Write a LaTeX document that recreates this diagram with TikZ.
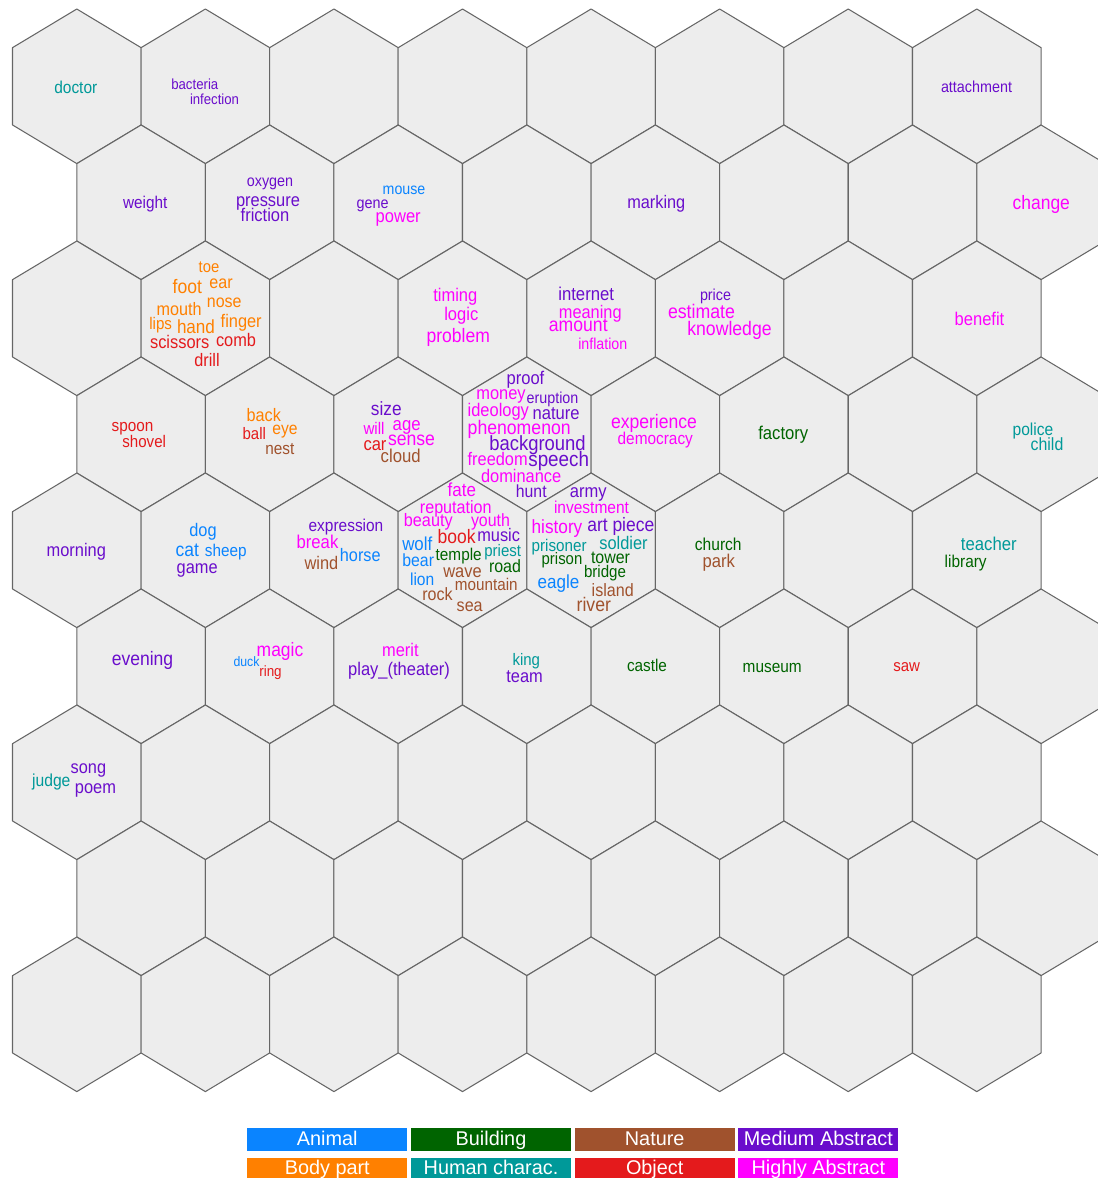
\documentclass[tikz,border=0pt]{standalone}
\usepackage{fontspec}
\setmainfont{Liberation Sans}
\newfontfamily\wordfont{Liberation Sans}[FakeStretch=0.9]
\usepackage{graphicx}
\definecolor{hexfill}{HTML}{EDEDED}
\definecolor{hexline}{HTML}{666666}
\definecolor{animal}{HTML}{0A84FF}
\definecolor{building}{HTML}{006400}
\definecolor{nature}{HTML}{A0522D}
\definecolor{medabs}{HTML}{6A0DCC}
\definecolor{bodypart}{HTML}{FF8000}
\definecolor{human}{HTML}{009999}
\definecolor{object}{HTML}{E41A1C}
\definecolor{highabs}{HTML}{FF00FF}
\newlength{\pxu}\setlength{\pxu}{0.02cm}
\begin{document}
\begin{tikzpicture}[x=0.02cm,y=-0.02cm,
	hexcell/.style={fill=hexfill,draw=hexline,line width=0.6pt,line join=round},
	word/.style={anchor=base,inner sep=0pt,outer sep=0pt,font=\wordfont},
	keybox/.style={fill=#1,text=white,minimum width=3.2cm,minimum height=0.448cm,inner sep=0pt,
		text height=8.1pt,text depth=1.5pt,font=\fontsize{11.3}{12}\selectfont}]
	\useasboundingbox (0,0) rectangle (1098,1178);
	\clip (0,0) rectangle (1098,1178);
	% Lưới lục giác 9 x 8
	\foreach \r in {0,...,8}
	\foreach \k in {0,...,7}{
		\pgfmathsetmacro{\hx}{76.8+128.57*\k+64.29*mod(\r,2)}
		\pgfmathsetmacro{\hy}{86.3+116*\r}
		\draw[hexcell] (\hx,\hy) +(0,-77.3) -- +(64.29,-38.65) -- +(64.29,38.65) -- +(0,77.3) -- +(-64.29,38.65) -- +(-64.29,-38.65) -- cycle;
	}
	% Các từ trong từng ô: x/y (đường chân chữ)/bề rộng/màu/từ
	\foreach \x/\y/\w/\c/\t [count=\n] in {
		75.8/93.3/43/human/doctor, 194.8/89.3/47/medabs/bacteria, 214.5/104.3/49/medabs/infection,
		976.5/92.7/71/medabs/attachment,
		145.2/208/44.3/medabs/weight, 270/186.7/46.3/medabs/oxygen, 268/206/64/medabs/pressure,
		265/221.7/48.6/medabs/friction, 404/194.3/42.6/animal/mouse, 372.7/208.3/32/medabs/gene,
		398.2/222.3/45/highabs/power, 656.3/208.3/58/medabs/marking, 1041.3/209/57.3/highabs/change,
		209/272.7/20.6/bodypart/toe, 187.3/293.3/29.3/bodypart/foot, 221/288.3/23.3/bodypart/ear,
		179.2/315/45/bodypart/mouth, 224.3/307.7/34.7/bodypart/nose, 160.7/329.3/22.7/bodypart/lips,
		196/333.3/38/bodypart/hand, 241.2/327.3/41/bodypart/finger, 179.7/348.3/59.3/object/scissors,
		236/346.7/40/object/comb, 207/366/25.3/object/drill,
		455.3/301.7/44/highabs/timing, 461.3/320/34/highabs/logic, 458.3/342.3/63.3/highabs/problem,
		586.2/300.7/55.7/medabs/internet, 590.3/318.3/62.7/highabs/meaning, 578.3/331.7/58.7/highabs/amount,
		602.8/349.3/49/highabs/inflation, 715.5/300/31/medabs/price, 701.5/318.3/67/highabs/estimate,
		729.5/335/84.3/highabs/knowledge, 979.5/325/49.7/highabs/benefit,
		132.5/431/41.7/object/spoon, 144.2/447.3/43.7/object/shovel,
		263.8/421/34.3/bodypart/back, 254.3/439.3/23.3/object/ball, 285/434.3/25.3/bodypart/eye,
		279.8/454/29/nature/nest,
		386.3/415/30.7/medabs/size, 374/434.3/21/highabs/will, 406.7/430/28/highabs/age,
		375/450/23/object/car, 411.5/445/47/highabs/sense, 400.7/462.7/40/nature/cloud,
		525.5/384.3/37.7/medabs/proof, 501/399.3/49.3/highabs/money, 552.5/403.3/51.7/medabs/eruption,
		498.3/416.7/61.3/highabs/ideology, 556.2/419/47/medabs/nature, 519.2/434.3/103/highabs/phenomenon,
		537.5/450/96.3/medabs/background, 497.7/465/60/highabs/freedom, 558.7/466.7/60.7/medabs/speech,
		521.2/482.7/80.3/highabs/dominance, 531.3/497.7/30.7/medabs/hunt,
		654/428.3/86/highabs/experience, 655.3/444/75.3/highabs/democracy,
		783.3/439/50/building/factory, 1033/435/40.7/human/police, 1047/450/32.7/human/child,
		76.3/556.7/59.3/medabs/morning,
		203/536.7/27.3/animal/dog, 187.3/556.7/23.3/animal/cat, 225.8/556.7/41.7/animal/sheep,
		197.2/573.3/41/medabs/game,
		346/531.7/74.7/medabs/expression, 317.5/548.3/41.7/highabs/break, 360.3/561.7/40.7/animal/horse,
		321.5/569/33.7/nature/wind,
		461.8/496.7/28.3/highabs/fate, 455.8/513.3/71.7/highabs/reputation, 428.3/526.7/48.7/highabs/beauty,
		490.5/526.7/39/highabs/youth, 456.7/543.3/38/object/book, 498.7/541/42.7/medabs/music,
		417.3/550/30/animal/wolf, 458.7/560.7/46/building/temple, 502.7/556/36.7/human/priest,
		418.2/566.7/31.7/animal/bear, 505/572.7/32/building/road, 462.5/577.3/38.4/nature/wave,
		422.2/585/24.3/animal/lion, 486.3/590.7/62.7/nature/mountain, 437.5/600/30.3/nature/rock,
		469.7/611.7/26/nature/sea,
		588.3/497.7/36.7/medabs/army, 591.5/513.3/75/highabs/investment, 557/533.3/50.7/highabs/history,
		620.8/531/67/medabs/art piece, 559.2/551/55/human/prisoner, 623.5/549/48.3/human/soldier,
		562/564.3/40.7/building/prison, 610.5/563.3/39/building/tower, 605/577.7/42/building/bridge,
		558.5/588.3/41.7/animal/eagle, 612.7/596/42/nature/island, 593.8/611.7/34.3/nature/river,
		718.3/550.7/46.7/building/church, 718.8/567.3/32.3/nature/park,
		988.8/550/55.7/human/teacher, 965.7/567.3/42/building/library,
		142.5/665.7/61.4/medabs/evening,
		246.5/666/26/animal/duck, 280/656.7/46.6/highabs/magic, 270.5/676.7/22.4/object/ring,
		400.4/656.7/36.5/highabs/merit, 399.1/675/101.8/medabs/play\_(theater),
		526.3/665.7/27.5/human/king, 524.6/682.3/36.5/medabs/team,
		647/671/40/building/castle, 772.2/672.3/59/building/museum, 906.7/671.7/26.7/object/saw,
		88.4/773.3/35.4/medabs/song, 51.3/786.7/38.3/human/judge, 95.5/793.3/41.1/medabs/poem}{
		\node[word,text=\c] (w\n) at (\x,\y) {\resizebox{\w\pxu}{!}{\t}};
	}
	% Chú thích
	\foreach \i/\c/\t in {0/animal/Animal,1/building/Building,2/nature/Nature,3/medabs/Medium Abstract}
	\node[keybox=\c] (keya\i) at (327.3+163.7*\i,1139.5) {\t};
	\foreach \i/\c/\t in {0/bodypart/Body part,1/human/Human charac.,2/object/Object,3/highabs/Highly Abstract}
	\node[keybox=\c] (keyb\i) at (327.3+163.7*\i,1168.7) {\t};
\end{tikzpicture}
\end{document}
